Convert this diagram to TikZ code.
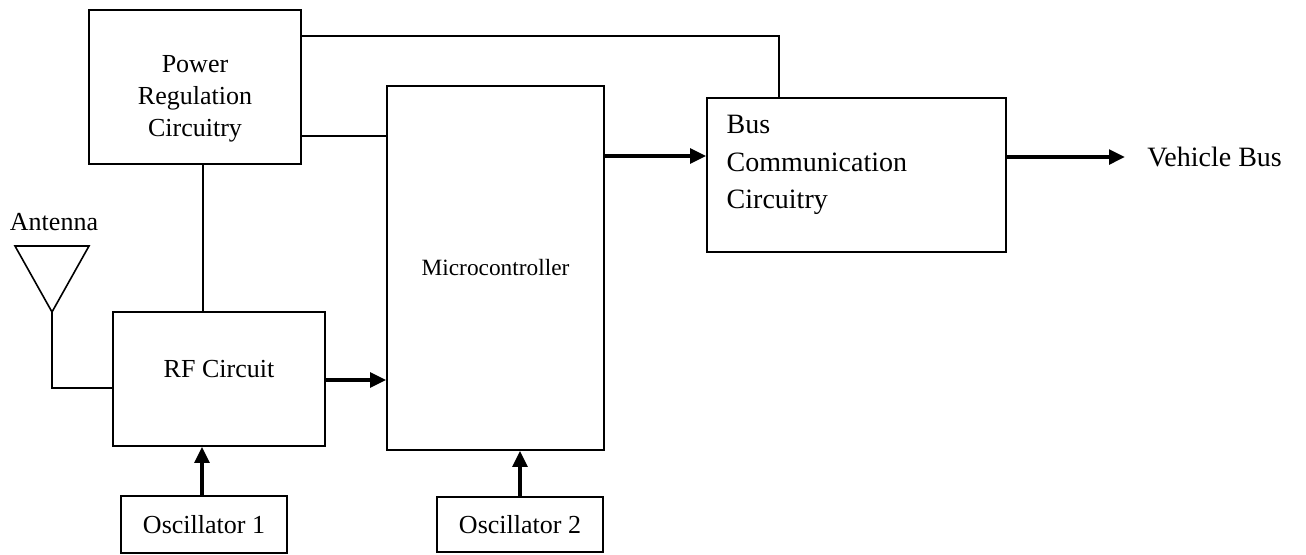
\documentclass[tikz,border=0pt]{standalone}
\usepackage{fontspec}
\setmainfont{Liberation Serif}
\usetikzlibrary{arrows.meta}
\newlength\px \setlength\px{0.75pt}
\begin{document}
\begin{tikzpicture}[x=0.75pt,y=-0.75pt,
    blk/.style={draw,line width=1.2pt,inner sep=0pt},
    lbl/.style={align=center,font=\fontsize{19.5}{24}\selectfont},
    wire/.style={line width=1.2pt},
    flow/.style={line width=2.6pt,-{Triangle[length=12pt,width=11pt]}}]
    \useasboundingbox (0,0) rectangle (1306,554);
    % blocks
    \node[blk,minimum width=212\px,minimum height=154\px] (pwr) at (195,87) {};
    \node[lbl] (pwrtxt) at (195,99) {Power\\Regulation\\Circuitry};
    \node[blk,minimum width=217\px,minimum height=364\px,font=\fontsize{17.5}{21}\selectfont] (mcu) at (495.5,268) {Microcontroller};
    \node[blk,minimum width=299\px,minimum height=154\px] (bus) at (856.5,175) {};
    \node[lbl,align=left,font=\fontsize{21}{28}\selectfont,anchor=west] (bustxt) at (722,165) {Bus\\Communication\\Circuitry};
    \node[blk,minimum width=212\px,minimum height=134\px] (rf) at (219,379) {};
    \node[lbl] (rftxt) at (219,369) {RF Circuit};
    \node[blk,lbl,minimum width=166\px,minimum height=57\px] (osc1) at (204,524.5) {Oscillator 1};
    \node[blk,lbl,minimum width=166\px,minimum height=55\px] (osc2) at (520,524.5) {Oscillator 2};
    % antenna
    \draw[wire,line join=miter] (15,246) -- (89,246) -- (52,312) -- cycle;
    \coordinate (antfeed) at (52,312);
    \node[lbl] (anttxt) at (54,222) {Antenna};
    % connections
    \draw[wire] (pwr.east |- 0,36) -| (bus.north -| 779,0);
    \draw[wire] (pwr.east |- 0,136) -- (mcu.west |- 0,136);
    \draw[wire] (pwr.south -| 203,0) -- (rf.north -| 203,0);
    \draw[wire] (antfeed) |- (rf.west |- 0,388);
    \draw[flow] (rf.east |- 0,380) -- (mcu.west |- 0,380);
    \draw[flow] (osc1.north -| 202,0) -- (rf.south -| 202,0);
    \draw[flow] (osc2.north) -- (osc2.north |- mcu.south);
    \draw[flow] (mcu.east |- 0,156) -- (bus.west |- 0,156);
    \node[font=\fontsize{21}{26}\selectfont,anchor=west,inner sep=0pt] (vbus) at (1147,157) {Vehicle Bus};
    \draw[flow] (bus.east |- vbus) -- ([xshift=-22\px]vbus.west);
\end{tikzpicture}
\end{document}
